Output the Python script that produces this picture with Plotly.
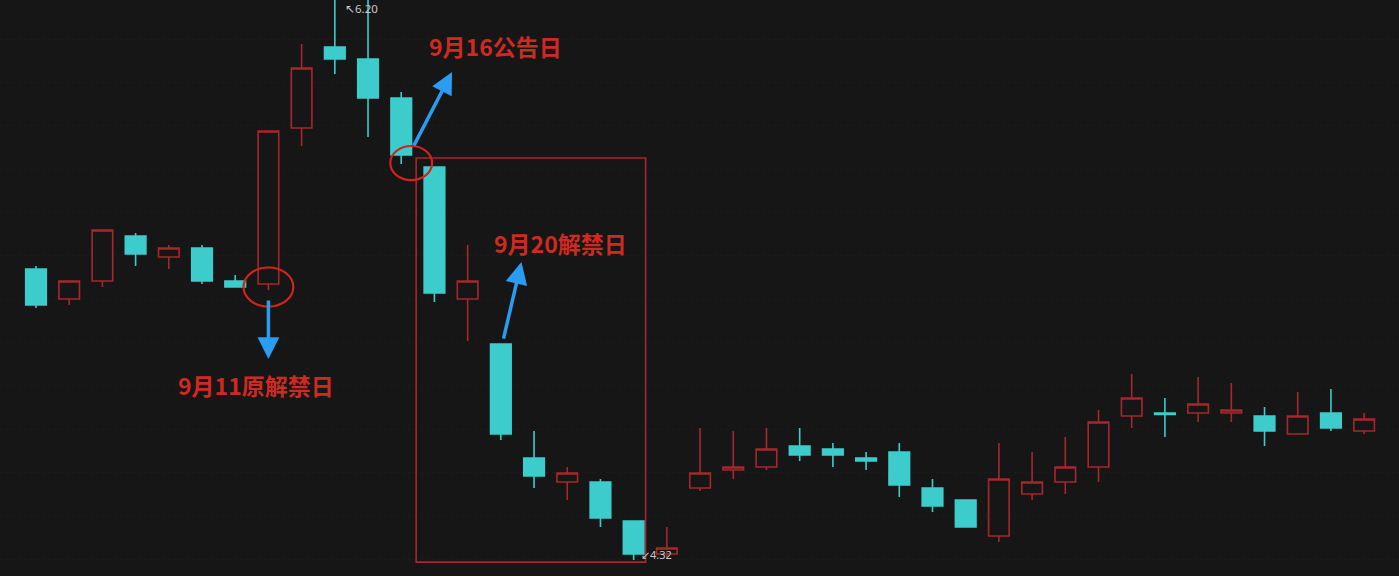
import plotly.graph_objects as go

# --- data ---
day = list(range(41))
open_ = [5.29, 5.19, 5.25, 5.40, 5.33, 5.36, 5.25, 5.24, 5.76, 6.03,
         5.99, 5.86, 5.63, 5.19, 5.04, 4.66, 4.58, 4.58, 4.45, 4.34,
         4.56, 4.62, 4.63, 4.70, 4.69, 4.66, 4.68, 4.56, 4.52, 4.40,
         4.54, 4.58, 4.63, 4.80, 4.81, 4.81, 4.81, 4.80, 4.74, 4.81, 4.75]
high = [5.30, 5.25, 5.42, 5.41, 5.37, 5.37, 5.27, 5.75, 6.04, 6.20,
        6.19, 5.88, 5.63, 5.37, 5.04, 4.75, 4.63, 4.59, 4.45, 4.43,
        4.76, 4.75, 4.76, 4.76, 4.71, 4.68, 4.71, 4.59, 4.52, 4.71,
        4.68, 4.73, 4.82, 4.94, 4.86, 4.93, 4.91, 4.83, 4.88, 4.89, 4.81]
low = [5.16, 5.17, 5.23, 5.30, 5.29, 5.24, 5.23, 5.22, 5.70, 5.94,
       5.73, 5.64, 5.18, 5.05, 4.72, 4.56, 4.52, 4.43, 4.32, 4.33,
       4.55, 4.59, 4.62, 4.65, 4.63, 4.62, 4.53, 4.48, 4.43, 4.38,
       4.52, 4.54, 4.58, 4.76, 4.73, 4.78, 4.78, 4.70, 4.74, 4.75, 4.74]
close = [5.17, 5.25, 5.42, 5.34, 5.36, 5.25, 5.23, 5.75, 5.96, 5.99,
         5.86, 5.67, 5.21, 5.25, 4.74, 4.60, 4.61, 4.46, 4.34, 4.36,
         4.61, 4.63, 4.69, 4.67, 4.67, 4.65, 4.57, 4.50, 4.43, 4.59,
         4.58, 4.63, 4.78, 4.86, 4.805, 4.84, 4.82, 4.75, 4.80, 4.76, 4.79]

# key days
day_orig = 7      # 9月11 原解禁日
day_notice = 11   # 9月16 公告日
day_unlock = 14   # 9月20 解禁日
box_first, box_last = 12, 18

BG = "#161616"
RED = "#a8272c"
CYAN = "#3ccccc"
TXT_RED = "#cf2a22"
BLUE = "#2a9cf2"

fig = go.Figure()
fig.add_trace(go.Candlestick(
    x=day, open=open_, high=high, low=low, close=close,
    increasing=dict(line=dict(color=RED, width=1.6), fillcolor=BG),
    decreasing=dict(line=dict(color=CYAN, width=1.6), fillcolor=CYAN),
    showlegend=False, hoverinfo="skip",
))

# red box around the slide
fig.add_shape(type="rect", xref="x", yref="y",
              x0=box_first - 0.55, x1=box_last + 0.36,
              y0=min(low) - 0.007, y1=5.66,
              line=dict(color=RED, width=1.6))

# red circles
fig.add_shape(type="circle", xref="x", yref="y",
              x0=day_orig - 0.75, x1=day_orig + 0.75, y0=5.165, y1=5.295,
              line=dict(color="#d0241c", width=2.2))
fig.add_shape(type="circle", xref="x", yref="y",
              x0=day_notice - 0.33, x1=day_notice + 0.93, y0=5.586, y1=5.70,
              line=dict(color="#d0241c", width=2.2))

# blue arrows
arrows = [
    (day_orig, 4.99, day_orig, 5.19),
    (day_notice + 1.53, 5.947, day_notice + 0.36, 5.697),
    (day_unlock + 0.62, 5.313, day_unlock + 0.07, 5.053),
]
for hx, hy, tx, ty in arrows:
    fig.add_annotation(x=hx, y=hy, ax=tx, ay=ty, xref="x", yref="y",
                       axref="x", ayref="y", text="", showarrow=True,
                       arrowhead=2, arrowsize=1.25, arrowwidth=3.5,
                       arrowcolor=BLUE, standoff=0, startstandoff=0)

# labels
labels = [
    ("9月11原解禁日", day_orig - 0.37, 4.903),
    ("9月16公告日", day_notice + 2.83, 6.033),
    ("9月20解禁日", day_unlock + 1.81, 5.377),
]
for txt, lx, ly in labels:
    fig.add_annotation(x=lx, y=ly, xref="x", yref="y", text="<b>" + txt + "</b>",
                       showarrow=False,
                       font=dict(family="Noto Sans CJK SC", size=23, color=TXT_RED))

# high / low markers
fig.add_annotation(x=9.25, y=6.157, xref="x", yref="y", text="↖6.20",
                   showarrow=False, xanchor="left",
                   font=dict(family="Noto Sans", size=11.5, color="#c8c8c8"))
fig.add_annotation(x=18.15, y=4.337, xref="x", yref="y", text="↙4.32",
                   showarrow=False, xanchor="left",
                   font=dict(family="Noto Sans", size=11, color="#c8c8c8"))

fig.update_layout(
    width=1399, height=576,
    margin=dict(l=0, r=0, t=0, b=0),
    paper_bgcolor=BG, plot_bgcolor=BG,
    boxgap=0.38, boxgroupgap=0,
    xaxis=dict(range=[-1.084, 41.05], visible=False, rangeslider=dict(visible=False),
               fixedrange=True),
    yaxis=dict(range=[4.2667, 6.1867], showticklabels=False, zeroline=False,
               showgrid=True, gridcolor="#1b1b1b", griddash="dot",
               tick0=5.045, dtick=0.1445, fixedrange=True),
)

# drop the page margin so the chart sits flush in the window
fig.write_html("out.html", config={"displayModeBar": False},
               post_script="document.body.style.margin='0';"
                           "document.body.style.background='#161616';")
